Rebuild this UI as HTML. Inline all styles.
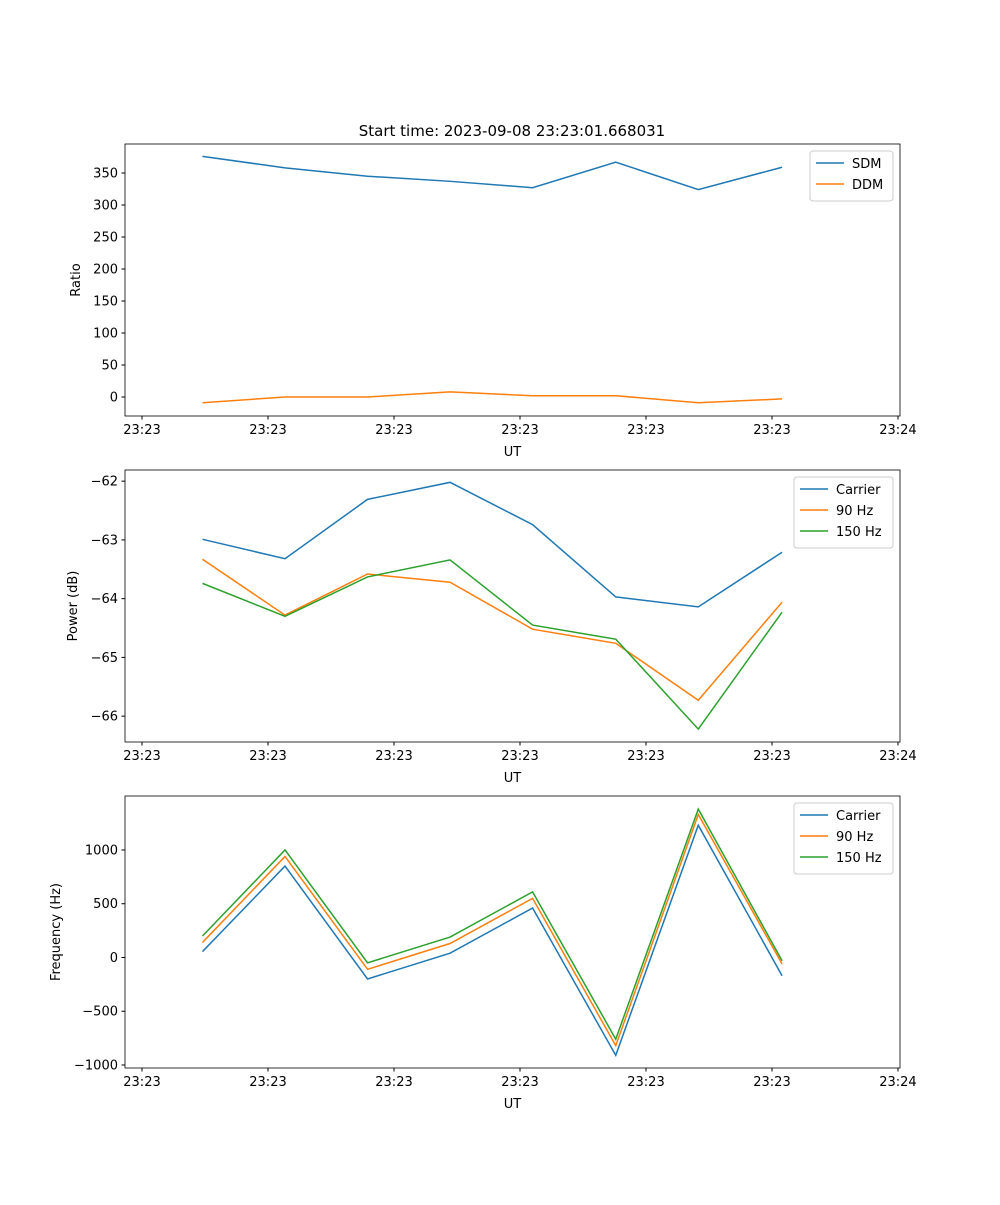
<!DOCTYPE html>
<html><head><meta charset="utf-8"><style>
body{margin:0;background:#fff;}
svg text{font-family:"DejaVu Sans","Liberation Sans",sans-serif;font-size:13px;fill:#000;}
</style></head><body>
<svg id="chart" width="1000" height="1200"></svg>
<script>
const times=[4.8,11.35,17.9,24.45,31.0,37.6,44.15,50.8];
const xTickVals=[0,10,20,30,40,50,60];
const xTickLabels=["23:23","23:23","23:23","23:23","23:23","23:23","23:24"];
const sdm=[376,358,345,337,327,367,324,359];
const ddm=[-9,0,0,8,2,2,-9,-3];
const pCarrier=[-62.99,-63.32,-62.31,-62.02,-62.74,-63.97,-64.14,-63.21];
const p90=[-63.33,-64.28,-63.58,-63.72,-64.52,-64.76,-65.73,-64.06];
const p150=[-63.74,-64.30,-63.63,-63.34,-64.45,-64.69,-66.22,-64.23];
const fCarrier=[55,850,-200,40,460,-910,1230,-170];
const f90=[140,940,-110,130,550,-820,1330,-60];
const f150=[200,1000,-50,190,610,-760,1380,-30];
const ratioTicks=[0,50,100,150,200,250,300,350];
const powerTicks=[-66,-65,-64,-63,-62];
const freqTicks=[-1000,-500,0,500,1000];
const C1="#1f77b4",C2="#ff7f0e",C3="#2ca02c";
const svg=document.getElementById('chart');
const NS="http://www.w3.org/2000/svg";
function mk(t,a,p){const e=document.createElementNS(NS,t);for(const k in a)e.setAttribute(k,a[k]);(p||svg).appendChild(e);return e;}
const L=125,R=900,xmin=-1.35,xmax=60.16;
function X(v){return L+(v-xmin)/(xmax-xmin)*(R-L);}
function panel(name,top,bot,ymin,ymax,yticks,ylabel,series,legend){
  const g=mk('g',{});
  
  
  const Y=v=>bot-(v-ymin)/(ymax-ymin)*(bot-top);
  series.forEach(s=>{
    const p=mk('polyline',{points:times.map((t,i)=>X(t)+','+Y(s.v[i])).join(' '),fill:'none',stroke:s.c,'stroke-width':1.5},g);
    
    
  });
  mk('rect',{x:L,y:top,width:R-L,height:bot-top,fill:'none',stroke:'#000','stroke-width':0.8},g);
  xTickVals.forEach((v,i)=>{const x=X(v);mk('line',{x1:x,x2:x,y1:bot,y2:bot+3.5,stroke:'#000'},g);
    const t=mk('text',{x:x,y:bot+18,'text-anchor':'middle'},g);t.textContent=xTickLabels[i];
    });
  yticks.forEach(v=>{const y=Y(v);mk('line',{x1:L,x2:L-3.5,y1:y,y2:y,stroke:'#000'},g);
    const t=mk('text',{x:L-7,y:y+4.5,'text-anchor':'end'},g);t.textContent=String(v).replace('-','\u2212');
    });
  const xt=mk('text',{x:(L+R)/2,y:bot+40,'text-anchor':'middle'},g);xt.textContent='UT';
  
  const yx=legend.yx;
  const yt=mk('text',{x:yx,y:(top+bot)/2,'text-anchor':'middle',transform:`rotate(-90 ${yx} ${(top+bot)/2})`},g);yt.textContent=ylabel;
  
  const lw=legend.w,lx=R-7-lw,ly=top+7,lh=series.length*21+8;
  const lg=mk('g',{},g);
  mk('rect',{x:lx,y:ly,width:lw,height:lh,rx:3,fill:'#fff',stroke:'#ccc'},lg);
  series.forEach((s,i)=>{const yy=ly+12+i*21;
    const e=mk('g',{},lg);
    mk('line',{x1:lx+6,x2:lx+34,y1:yy,y2:yy,stroke:s.c,'stroke-width':1.5},e);
    const t=mk('text',{x:lx+42,y:yy+5},e);t.textContent=s.n;});
}
const title=mk('text',{x:512,y:136,'text-anchor':'middle',style:'font-size:15px'});
title.textContent='Start time: 2023-09-08 23:23:01.668031';

panel('ratio-panel',144,416,-29.7,395.3,ratioTicks,'Ratio',[{n:'SDM',v:sdm,c:C1},{n:'DDM',v:ddm,c:C2}],{w:83,yx:80});
panel('power-panel',470,742,-66.44,-61.81,powerTicks,'Power (dB)',[{n:'Carrier',v:pCarrier,c:C1},{n:'90 Hz',v:p90,c:C2},{n:'150 Hz',v:p150,c:C3}],{w:99,yx:77});
panel('frequency-panel',796,1068,-1028,1502,freqTicks,'Frequency (Hz)',[{n:'Carrier',v:fCarrier,c:C1},{n:'90 Hz',v:f90,c:C2},{n:'150 Hz',v:f150,c:C3}],{w:99,yx:60});
</script>
</body></html>
